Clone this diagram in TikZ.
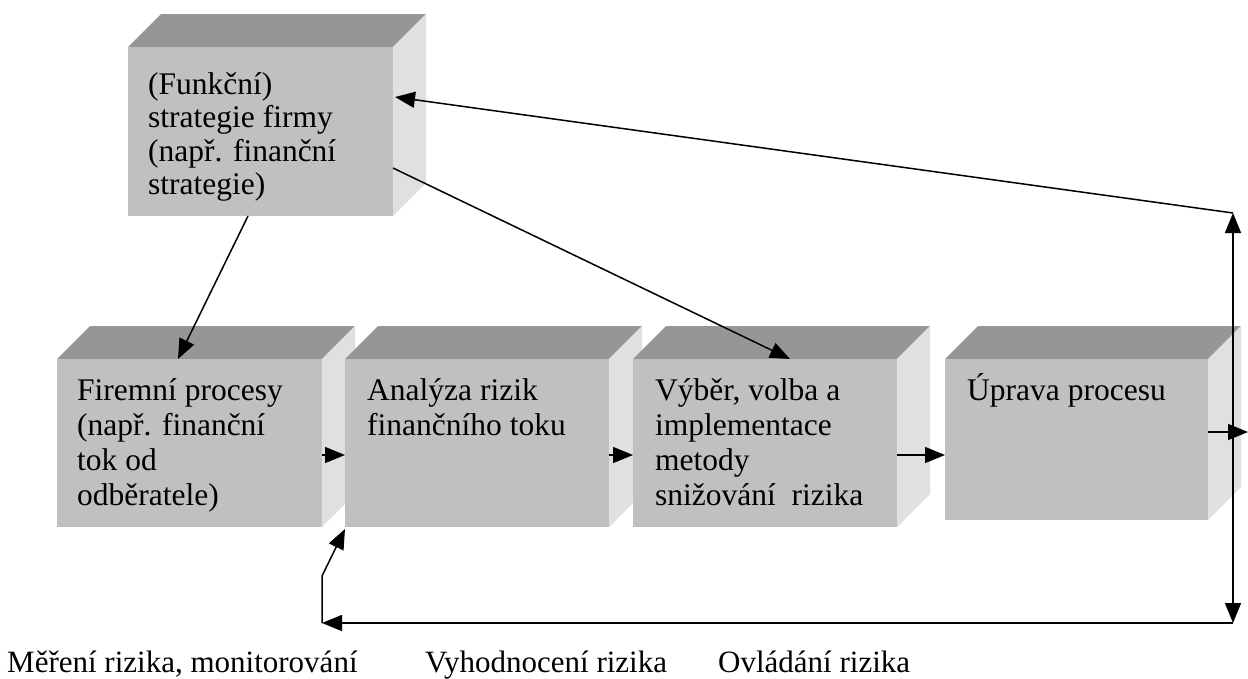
\documentclass[tikz,border=0pt]{standalone}
\usepackage{fontspec}
\setmainfont{Liberation Serif}
\usetikzlibrary{arrows.meta,calc}
\definecolor{frontc}{HTML}{C0C0C0}
\definecolor{topc}{HTML}{969696}
\definecolor{sidec}{HTML}{E0E0E0}
\newcommand\fstrut{\rule{0pt}{30pt}}
\newcommand\mycube[5]{%
  \fill[topc] (#2,#3) -- ++(33,-33) -- ++(#4,0) -- ++(-33,33) -- cycle;
  \fill[sidec] ($(#2,#3)+(#4,0)$) -- ++(33,-33) -- ++(0,#5) -- ++(-33,33) -- cycle;
  \node[frontbox, minimum width=#4pt, minimum height=#5pt, anchor=north west] (#1) at (#2,#3) {};
}
\tikzset{
  frontbox/.style={rectangle, fill=frontc, inner sep=0pt, outer sep=0pt},
  boxtext/.style={anchor=north west, inner sep=0pt, align=left, font=\fontsize{31.5}{35}\selectfont},
  toptext/.style={anchor=north west, inner sep=0pt, align=left, font=\fontsize{31.5}{33.5}\selectfont},
  labeltext/.style={anchor=base west, inner sep=0pt, font=\fontsize{31}{35}\selectfont},
  conn/.style={line width=1.5pt, -{Triangle[length=20pt,width=16pt]}},
  plain/.style={line width=1.5pt}
}
\begin{document}
\begin{tikzpicture}[x=1pt,y=-1pt]
\useasboundingbox (0,0) rectangle (1248,678);
% boxes
\mycube{top}{128}{47}{265}{169}
\mycube{b1}{57}{359}{265}{168}
\mycube{b2}{345}{359}{264}{168}
\mycube{b3}{633}{359}{264}{168}
\mycube{b4}{945}{359}{263}{161}
% texts
\node[toptext] (ttop) at ($(top.north west)+(20,17)$) {\fstrut(Funkční)\\strategie firmy\\(např. finanční\\strategie)};
\node[boxtext] (t1) at ($(b1.north west)+(20,11)$) {\fstrut Firemní procesy\\(např. finanční\\tok od\\odběratele)};
\node[boxtext] (t2) at ($(b2.north west)+(22,11)$) {\fstrut Analýza rizik\\finančního toku};
\node[boxtext] (t3) at ($(b3.north west)+(22,11)$) {\fstrut Výběr, volba a\\implementace\\metody\\snižování~ rizika};
\node[boxtext] (t4) at ($(b4.north west)+(22,11)$) {\fstrut Úprava procesu};
% labels
\node[labeltext] (l1) at (7,672) {Měření rizika, monitorování};
\node[labeltext] (l2) at (425,672) {Vyhodnocení rizika};
\node[labeltext] (l3) at (718,672) {Ovládání rizika};
% coordinates
\coordinate (jt) at (1233,213);
\coordinate (jb) at (1233,623);
\coordinate (jl) at (322,623);
\coordinate (jk) at (322,576);
\coordinate (out) at (1248,432);
% connectors
\draw[conn] ($(top.south west)+(120,0)$) -- ($(b1.north west)+(121,0)$);
\draw[conn] ($(top.north east)+(0,121)$) -- ($(b3.north west)+(157,0)$);
\draw[conn] ($(b1.north east)+(0,96)$) -- ($(b2.north west)+(0,96)$);
\draw[conn] ($(b2.north east)+(0,96)$) -- ($(b3.north west)+(0,96)$);
\draw[conn] ($(b3.north east)+(0,96)$) -- ($(b4.north west)+(0,96)$);
\draw[conn] ($(b4.north east)+(0,73)$) -- (out);
\draw[conn] (jt) -- ($(top.north east)+(2,50)$);
\draw[line width=1.5pt, {Triangle[length=20pt,width=16pt]}-{Triangle[length=20pt,width=16pt]}] (jb) -- (jt);
\draw[conn] (jb) -- (jl);
\draw[conn] (jl) -- (jk) -- ($(b2.south west)+(0,2)$);
\end{tikzpicture}
\end{document}
